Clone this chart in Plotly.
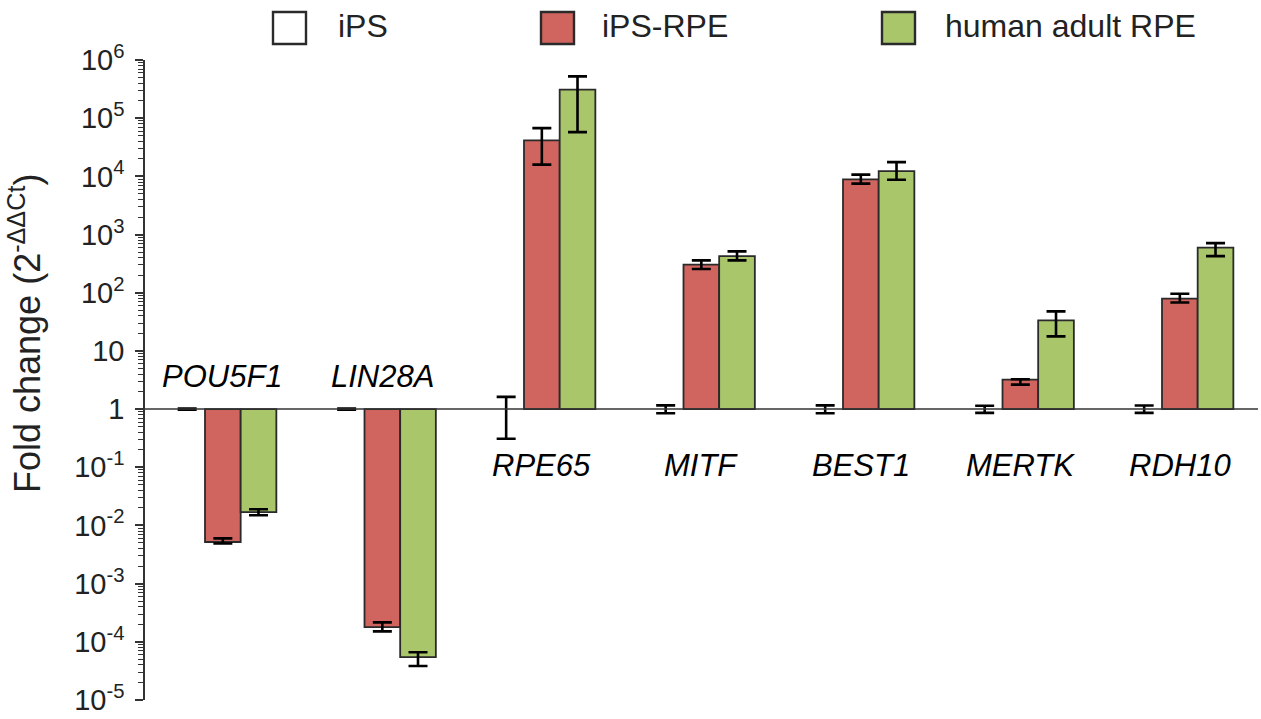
import plotly.graph_objects as go

genes = ["POU5F1", "LIN28A", "RPE65", "MITF", "BEST1", "MERTK", "RDH10"]

ips = [1, 1, 1, 1, 1, 1, 1]
ips_hi = [1.02, 1.02, 1.62, 1.16, 1.16, 1.14, 1.15]
ips_lo = [0.98, 0.98, 0.31, 0.85, 0.85, 0.86, 0.86]

ips_rpe = [5.2e-3, 1.79e-4, 4.15e4, 303, 8870, 3.2, 79]
ips_rpe_hi = [6.0e-3, 2.16e-4, 6.76e4, 360, 1.07e4, 3.25, 96]
ips_rpe_lo = [4.9e-3, 1.51e-4, 1.59e4, 255, 7.5e3, 2.63, 68]

adult = [1.69e-2, 5.46e-5, 3.09e5, 426, 1.23e4, 33.5, 594]
adult_hi = [1.9e-2, 6.6e-5, 5.23e5, 514, 1.76e4, 47.8, 713]
adult_lo = [1.5e-2, 3.83e-5, 5.77e4, 360, 8.77e3, 17.8, 426]

series_names = ["iPS", "iPS-RPE", "human adult RPE"]
label_above = ["POU5F1", "LIN28A"]

colors = ["#FFFFFF", "#D06560", "#AAC66B"]
edge_widths = [0, 1.8, 1.8]
FONT = "Liberation Sans, Arial, sans-serif"
EDGE = "#2a2a2a"

W, H = 1261, 719
ML, MR, MT, MB = 145, 3, 60, 19
PW, PH = W - ML - MR, H - MT - MB


def px_x(p):
    return (p - ML) / PW


def px_y(p):
    return (H - MB - p) / PH


fig = go.Figure()

series = [(ips, ips_hi, ips_lo), (ips_rpe, ips_rpe_hi, ips_rpe_lo), (adult, adult_hi, adult_lo)]
for (vals, hi, lo), name, col, ew in zip(series, series_names, colors, edge_widths):
    fig.add_trace(go.Bar(
        x=genes,
        y=[v - 1 for v in vals],
        base=[1] * len(vals),
        name=name,
        showlegend=False,
        marker=dict(color=col, line=dict(color=EDGE, width=ew)),
        error_y=dict(type="data", symmetric=False,
                     array=[h - v for h, v in zip(hi, vals)],
                     arrayminus=[v - l for v, l in zip(vals, lo)],
                     color="black", thickness=2.6, width=9.5),
    ))

# manual legend (large swatches as in the reference)
legend_sq_left = [273, 541, 882]
legend_txt_left = [336, 600, 943]
for name, col, sx, tx in zip(series_names, colors, legend_sq_left, legend_txt_left):
    fig.add_shape(type="rect", xref="paper", yref="paper",
                  x0=px_x(sx), x1=px_x(sx + 33), y0=px_y(44), y1=px_y(12),
                  fillcolor=col, line=dict(color=EDGE, width=2.4), layer="above")
    fig.add_annotation(xref="paper", yref="paper", x=px_x(tx), y=px_y(26),
                       text=name, showarrow=False, xanchor="left", yanchor="middle",
                       font=dict(family=FONT, size=32, color="#222"))

tick_vals = [1e-5, 1e-4, 1e-3, 1e-2, 1e-1, 1, 10, 1e2, 1e3, 1e4, 1e5, 1e6]
tick_text = ["10<sup>-5</sup>", "10<sup>-4</sup>", "10<sup>-3</sup>", "10<sup>-2</sup>",
             "10<sup>-1</sup>", "1", "10", "10<sup>2</sup>", "10<sup>3</sup>",
             "10<sup>4</sup>", "10<sup>5</sup>", "10<sup>6</sup>"]

fig.update_layout(
    width=W, height=H,
    margin=dict(l=ML, r=MR, t=MT, b=MB, pad=0),
    paper_bgcolor="white", plot_bgcolor="white",
    showlegend=False,
    barmode="group", bargap=0.329, bargroupgap=0,
    font=dict(family=FONT, color="#222"),
    xaxis=dict(type="category", range=[-0.488, 6.49], showticklabels=False,
               showgrid=False, zeroline=False, showline=False, ticks=""),
    yaxis=dict(type="log", range=[-5, 6], showgrid=False, zeroline=False,
               showline=True, linecolor="#333", linewidth=1.5,
               tickmode="array", tickvals=tick_vals, ticktext=tick_text,
               ticks="outside", ticklen=8, tickwidth=1.5, tickcolor="#333",
               ticklabelstandoff=5,
               tickfont=dict(family=FONT, size=29, color="#222"),
               minor=dict(ticks="outside", ticklen=5, tickwidth=1, tickcolor="#333",
                          dtick="D1", showgrid=False)),
)

# horizontal baseline at fold change 1
fig.add_shape(type="line", xref="paper", x0=0, x1=1, yref="y", y0=1, y1=1,
              line=dict(color="#333", width=1.5), layer="above")

# gene labels
for g in genes:
    above = g in label_above
    fig.add_annotation(x=g, xref="x", yref="y", y=0.553 if above else -0.976,
                       text=f"<i>{g}</i>", showarrow=False, xanchor="center",
                       yanchor="middle",
                       font=dict(family=FONT, size=31, color="black"))

# y-axis title
fig.add_annotation(x=px_x(25), xref="paper", y=px_y(334), yref="paper",
                   text="Fold change (2<sup>-ΔΔCt</sup>)", textangle=-90,
                   showarrow=False, xanchor="center", yanchor="middle",
                   font=dict(family=FONT, size=36, color="#222"))

fig.write_html("out.html")
